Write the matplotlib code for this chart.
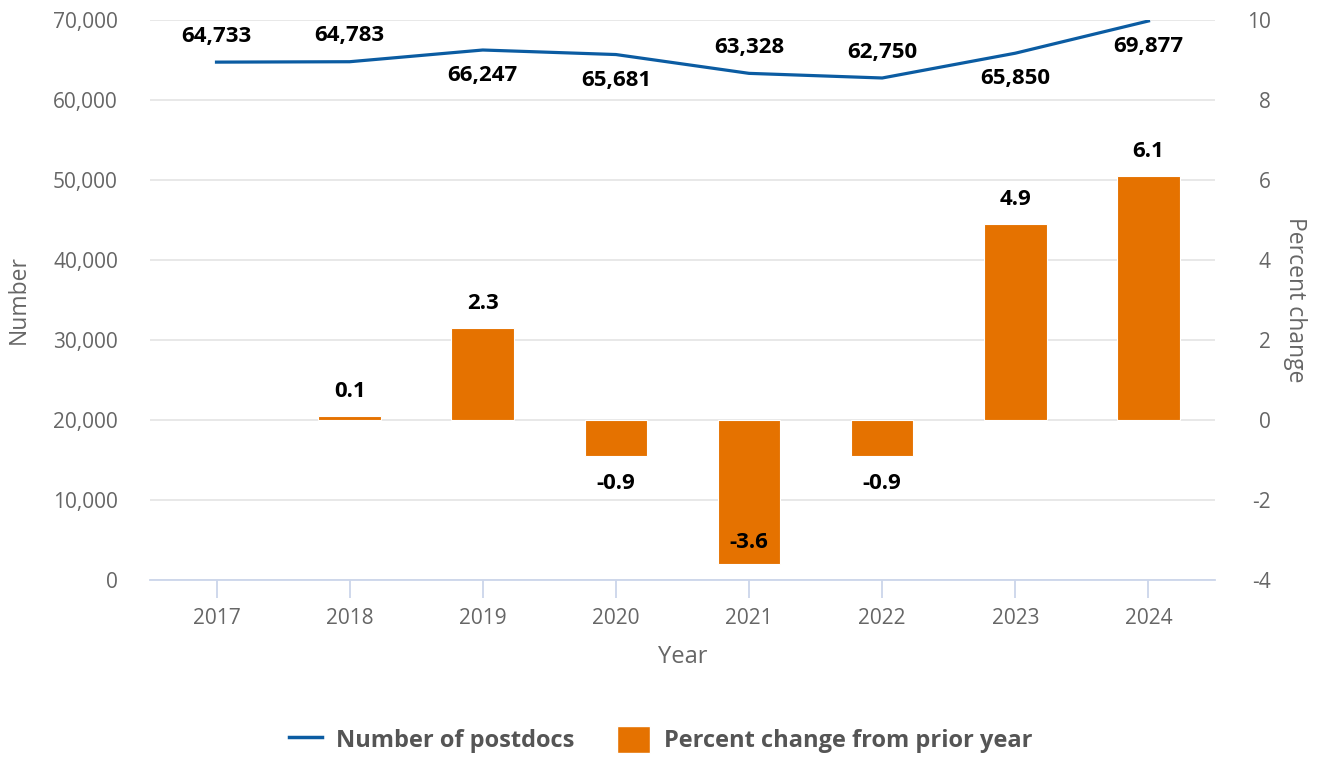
import matplotlib
matplotlib.use("Agg")
import matplotlib.pyplot as plt
from matplotlib.ticker import FuncFormatter, MultipleLocator
from matplotlib.lines import Line2D
from matplotlib.patches import Patch

years = ["2017", "2018", "2019", "2020", "2021", "2022", "2023", "2024"]
postdocs = [64733, 64783, 66247, 65681, 63328, 62750, 65850, 69877]
pct_change = [None, 0.1, 2.3, -0.9, -3.6, -0.9, 4.9, 6.1]
# where the number label sits relative to the line point
line_label_pos = ["above", "above", "below", "below", "above", "above", "below", "below"]

BLUE = "#0b5ca2"
ORANGE = "#e57200"
GREY = "#666666"

plt.rcParams["font.family"] = ["Open Sans", "DejaVu Sans"]

fig = plt.figure(figsize=(13.21, 7.57), dpi=100)
ax = fig.add_axes([0.1135, 0.2338, 0.8063, 0.7398])
ax2 = ax.twinx()

x = list(range(len(years)))

# left axis: number of postdocs
ax.set_ylim(0, 70000)
ax.set_xlim(-0.5, 7.5)
ax.yaxis.set_major_locator(MultipleLocator(10000))
ax.yaxis.set_major_formatter(FuncFormatter(lambda v, p: f"{int(v):,}"))

# right axis: percent change (grid lives here so it stays under the bars)
ax2.set_ylim(-4, 10)
ax2.yaxis.set_major_locator(MultipleLocator(2))
ax2.yaxis.set_major_formatter(FuncFormatter(lambda v, p: f"{int(v)}"))
ax2.grid(axis="y", color="#e6e6e6", linewidth=1.3)
ax2.set_axisbelow(True)

bx = [i for i, v in zip(x, pct_change) if v is not None]
bv = [v for v in pct_change if v is not None]
ax2.bar(bx, bv, width=0.47, color=ORANGE, edgecolor="white", linewidth=0.8, zorder=2)

for xi, v in zip(bx, bv):
    if v >= 0:
        ax2.annotate(f"{v:.1f}", (xi, v), xytext=(0, 10), textcoords="offset points",
                     ha="center", va="bottom", fontsize=16, fontweight="bold", color="black")
    elif v < -3:
        ax2.annotate(f"{v:.1f}", (xi, v), xytext=(0, 8), textcoords="offset points",
                     ha="center", va="bottom", fontsize=16, fontweight="bold", color="black")
    else:
        ax2.annotate(f"{v:.1f}", (xi, v), xytext=(0, -12), textcoords="offset points",
                     ha="center", va="top", fontsize=16, fontweight="bold", color="black")

# line drawn on the left axis, on top of bars
ax2.set_zorder(1)
ax.set_zorder(2)
ax.patch.set_visible(False)
ax.plot(x, postdocs, color=BLUE, linewidth=2.3, zorder=3)
for xi, v, pos in zip(x, postdocs, line_label_pos):
    off = 11 if pos == "above" else -11
    ax.annotate(f"{v:,}", (xi, v), xytext=(0, off), textcoords="offset points",
                ha="center", va="bottom" if pos == "above" else "top",
                fontsize=16, fontweight="bold", color="black")

ax.set_xticks(x)
ax.set_xticklabels(years)

for a in (ax, ax2):
    for s in ("top", "left", "right", "bottom"):
        a.spines[s].set_visible(False)
ax.spines["bottom"].set_visible(True)
ax.spines["bottom"].set_color("#ccd6eb")
ax.spines["bottom"].set_linewidth(1.3)

ax.tick_params(axis="x", length=13, width=1.3, color="#ccd6eb", labelsize=15,
               labelcolor=GREY, pad=7)
ax.tick_params(axis="y", length=0, labelsize=15, labelcolor=GREY, pad=23)
ax2.tick_params(axis="y", length=0, labelsize=15, labelcolor=GREY, pad=40)
for lbl in ax2.get_yticklabels():
    lbl.set_horizontalalignment("right")

ax.set_xlabel("Year", fontsize=17, color=GREY, labelpad=12)
ax.set_ylabel("Number", fontsize=16.5, color=GREY, labelpad=16)
ax2.set_ylabel("Percent change", fontsize=16.5, color=GREY, rotation=270, labelpad=26)

handles = [Line2D([0], [0], color=BLUE, linewidth=2.5),
           Patch(facecolor=ORANGE, edgecolor="white")]
leg = fig.legend(handles, ["Number of postdocs", "Percent change from prior year"],
                 loc="center", bbox_to_anchor=(0.5, 0.023), ncol=2, frameon=False,
                 handlelength=1.4, handleheight=1.4, handletextpad=0.6, columnspacing=1.8,
                 prop={"size": 17, "weight": "bold"})
for t in leg.get_texts():
    t.set_color("#555555")

fig.savefig("out.png", dpi=100)
